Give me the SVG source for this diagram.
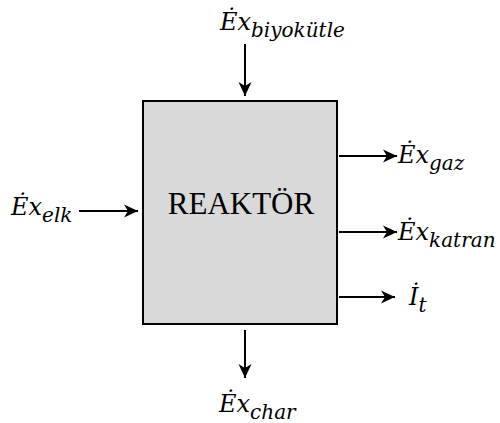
<svg xmlns="http://www.w3.org/2000/svg" width="500" height="423" viewBox="0 0 500 423">
<style>
.m{font-family:"DejaVu Serif","Liberation Serif",serif;font-style:italic;font-size:24px;fill:#000}
.s{font-size:20px}
.t{font-family:"Liberation Serif","Times New Roman",serif;font-size:31px;fill:#000}
.c{stroke:#000;stroke-width:2;fill:none;marker-end:url(#ah)}
</style>
<defs>
<marker id="ah" markerUnits="userSpaceOnUse" markerWidth="16" markerHeight="16" refX="14" refY="8" orient="auto">
<path d="M0,1.5 L14,8 L0,14.5 L4,8 Z" fill="#000"/>
</marker>
</defs>
<rect width="500" height="423" fill="#fff"/>
<g id="reaktor">
<rect x="143" y="101" width="194" height="223" fill="#d9d9d9" stroke="#000" stroke-width="2"/>
<text class="t" x="241" y="214" text-anchor="middle">REAKTÖR</text>
</g>
<g id="connectors">
<line class="c" x1="245" y1="44" x2="245" y2="96"/>
<line class="c" x1="79" y1="211" x2="138" y2="211"/>
<line class="c" x1="339" y1="156" x2="397" y2="156"/>
<line class="c" x1="339" y1="232" x2="397" y2="232"/>
<line class="c" x1="339" y1="297" x2="395" y2="297"/>
<line class="c" x1="245" y1="330" x2="245" y2="378"/>
</g>
<g id="in-biyokutle"><text class="m" x="220" y="30">Ėx<tspan class="s" dy="7">biyokütle</tspan></text></g>
<g id="in-elk"><text class="m" x="11" y="215">Ėx<tspan class="s" dy="7">elk</tspan></text></g>
<g id="out-gaz"><text class="m" x="398" y="163">Ėx<tspan class="s" dy="7">gaz</tspan></text></g>
<g id="out-katran"><text class="m" x="398" y="240">Ėx<tspan class="s" dy="7">katran</tspan></text></g>
<g id="out-it"><text class="m" x="409" y="305">İ<tspan class="s" dy="7">t</tspan></text></g>
<g id="out-char"><text class="m" x="219" y="412">Ėx<tspan class="s" dy="7">char</tspan></text></g>
</svg>
